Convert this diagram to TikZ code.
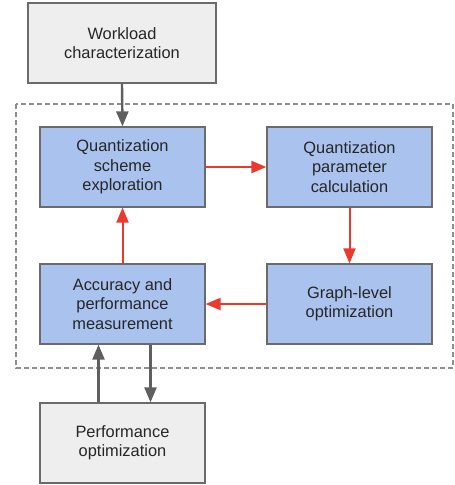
\documentclass[tikz,border=0pt]{standalone}
\usepackage{fontspec}
\setmainfont{Liberation Sans}
\usetikzlibrary{arrows.meta, positioning}

\definecolor{stepblue}{HTML}{A9C2EE}
\definecolor{stepgray}{HTML}{EEEEEE}
\definecolor{edgegray}{HTML}{6B6B6B}
\definecolor{flowgray}{HTML}{5F5F5F}
\definecolor{flowred}{HTML}{EA3A2E}
\definecolor{framegray}{HTML}{8E8E8E}

\tikzset{
    stage/.style={draw=edgegray, line width=1.2pt, align=center, text=black!85,
        minimum width=165pt, minimum height=80pt, inner sep=2pt,
        font=\fontsize{16.4}{19.5}\selectfont},
    loopstage/.style={stage, fill=stepblue},
    outerstage/.style={stage, fill=stepgray},
    grayflow/.style={-{Triangle[length=15pt,width=12pt]}, line width=2.4pt, draw=flowgray, fill=flowgray},
    redflow/.style={-{Triangle[length=15pt,width=12pt]}, line width=2pt, draw=flowred, fill=flowred}
}

\begin{document}
\begin{tikzpicture}[x=1pt, y=-1pt]
    \useasboundingbox (0,0) rectangle (455,485);

    % Dashed frame around the loop
    \draw[framegray, line width=1.1pt, dash pattern=on 5pt off 3pt] (16,104) rectangle (453,368);

    % Stages
    \node[outerstage, minimum width=188pt] (work) at (122,43) {Workload\\characterization};
    \node[loopstage] (scheme) at (122.5,167) {Quantization\\scheme\\exploration};
    \node[loopstage] (param) at (349.5,167) {Quantization\\parameter\\calculation};
    \node[loopstage] (graph) at (349.5,304) {Graph-level\\optimization};
    \node[loopstage] (acc) at (122.5,304) {Accuracy and\\performance\\measurement};
    \node[outerstage] (perf) at (122.5,443) {Performance\\optimization};

    % Gray arrows
    \draw[grayflow] (work.south) -- (scheme.north);
    \draw[grayflow] ([xshift=-24pt]perf.north) -- ([xshift=-24pt]acc.south);
    \draw[grayflow] ([xshift=28pt]acc.south) -- ([xshift=28pt]perf.north);

    % Red loop arrows
    \draw[redflow] (scheme.east) -- (param.west);
    \draw[redflow] (param.south) -- (graph.north);
    \draw[redflow] (graph.west) -- (acc.east);
    \draw[redflow] (acc.north) -- (scheme.south);

\end{tikzpicture}
\end{document}
